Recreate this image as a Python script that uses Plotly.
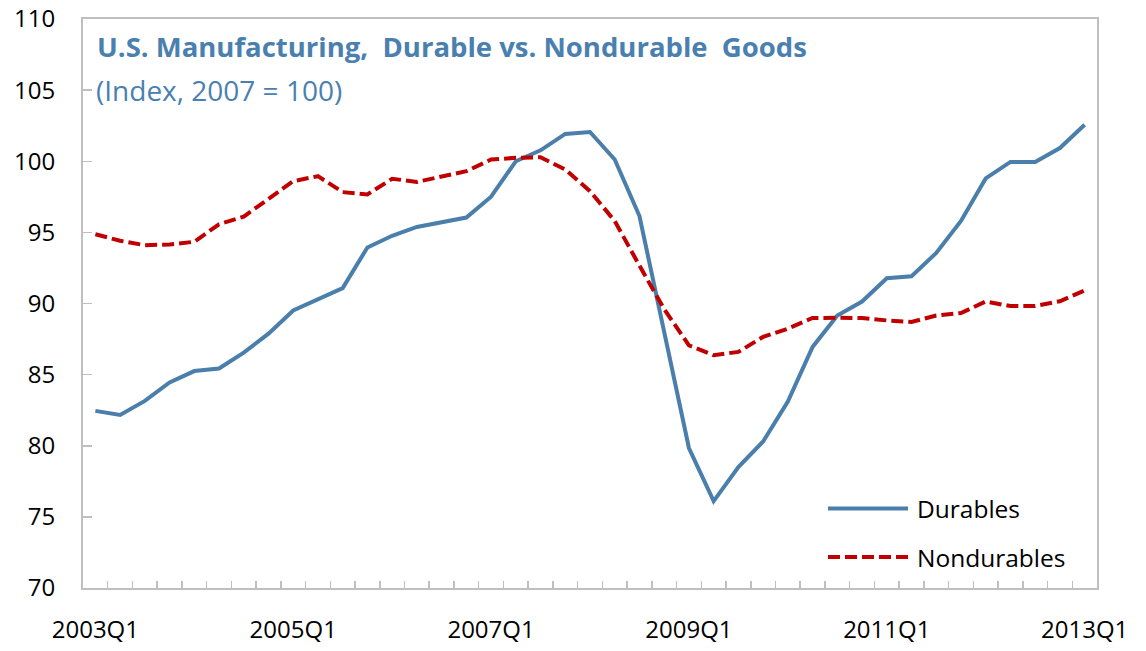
import plotly.graph_objects as go

quarters = [f"{y}Q{q}" for y in range(2003, 2014) for q in range(1, 5)][:41]
tick_labels = ["2003Q1", "2005Q1", "2007Q1", "2009Q1", "2011Q1", "2013Q1"]

durables = [82.45, 82.17, 83.15, 84.45, 85.25, 85.43, 86.55, 87.88, 89.51, 90.28,
            91.08, 93.94, 94.76, 95.38, 95.74, 96.04, 97.51, 100.0, 100.77, 101.92,
            102.06, 100.12, 96.15, 88.0, 79.84, 76.11, 78.5, 80.3, 83.1, 86.95,
            89.16, 90.14, 91.78, 91.92, 93.55, 95.8, 98.79, 99.95, 99.95, 100.93,
            102.57]
nondurables = [94.87, 94.41, 94.1, 94.15, 94.34, 95.57, 96.11, 97.37, 98.6, 98.95,
               97.83, 97.67, 98.77, 98.55, 98.95, 99.3, 100.12, 100.24, 100.28, 99.42,
               97.9, 95.8, 92.66, 89.6, 87.06, 86.36, 86.6, 87.65, 88.23, 88.98,
               89.0, 88.98, 88.81, 88.7, 89.16, 89.33, 90.14, 89.82, 89.82, 90.16,
               90.91]

BLUE = "#4A7EAB"
RED = "#C00000"
TITLE = "#4A80B0"
GRID = "#BFBFBF"
FONT = "Open Sans"

fig = go.Figure()
fig.add_trace(go.Scatter(x=quarters, y=durables, mode="lines", name="Durables",
                         line=dict(color=BLUE, width=4)))
fig.add_trace(go.Scatter(x=quarters, y=nondurables, mode="lines", name="Nondurables",
                         line=dict(color=RED, width=4, dash="12px,5px")))

# body margin removed via post_script, so figure pixels == screen pixels
W, H = 1146, 651
ml = 83
mt = 19
mr = W - 1097
mb = H - 588.5
pw, ph = W - ml - mr, H - mt - mb

def px(X):  # screen x -> paper
    return (X - ml) / pw

def py(Y):  # screen y -> paper
    return (H - mb - Y) / ph

fig.update_layout(
    width=W, height=H,
    margin=dict(l=ml, r=mr, t=mt, b=mb, pad=0),
    paper_bgcolor="white", plot_bgcolor="white",
    showlegend=False,
    font=dict(family=FONT, color="black", size=24),
    xaxis=dict(
        type="category", range=[-0.5, 40.5], automargin=False, tickangle=0,
        tickmode="array", tickvals=quarters,
        ticktext=[q if q in tick_labels else "" for q in quarters],
        tickson="boundaries", ticks="inside", ticklen=7, tickwidth=1.5,
        tickcolor=GRID, showline=True, linecolor=GRID, linewidth=2, mirror=True,
        showgrid=False, zeroline=False, ticklabelstandoff=19,
        ticklabeloverflow="allow", tickfont=dict(size=24),
    ),
    yaxis=dict(
        range=[70, 110], dtick=5, tick0=70, ticks="inside", ticklen=9, tickwidth=1.5,
        automargin=False,
        tickcolor=GRID, showline=True, linecolor=GRID, linewidth=2, mirror=True,
        showgrid=False, zeroline=False, ticklabelstandoff=21,
        ticklabeloverflow="allow", tickfont=dict(size=24),
    ),
)

fig.add_annotation(text="<b>U.S. Manufacturing,  Durable vs. Nondurable  Goods</b>",
                   xref="paper", yref="paper", x=px(95), y=py(47),
                   xanchor="left", yanchor="middle", showarrow=False,
                   font=dict(size=27.5, color=TITLE, family=FONT))
fig.add_annotation(text="(Index, 2007 = 100)",
                   xref="paper", yref="paper", x=px(94), y=py(90),
                   xanchor="left", yanchor="middle", showarrow=False,
                   font=dict(size=28, color=TITLE, family=FONT))

# legend
for name, color, dash, yy in [("Durables", BLUE, "solid", 509),
                              ("Nondurables", RED, "12px,5px", 557.5)]:
    fig.add_shape(type="line", xref="paper", yref="paper",
                  x0=px(828), x1=px(908), y0=py(yy), y1=py(yy),
                  line=dict(color=color, width=4, dash=dash))
    fig.add_annotation(text=name, xref="paper", yref="paper", x=px(915), y=py(yy),
                       xanchor="left", yanchor="middle", showarrow=False,
                       font=dict(size=24.5, color="black", family=FONT))

fig.write_html("out.html",
               config={"displayModeBar": False, "staticPlot": True},
               post_script="document.body.style.margin='0';document.body.style.overflow='hidden';")
